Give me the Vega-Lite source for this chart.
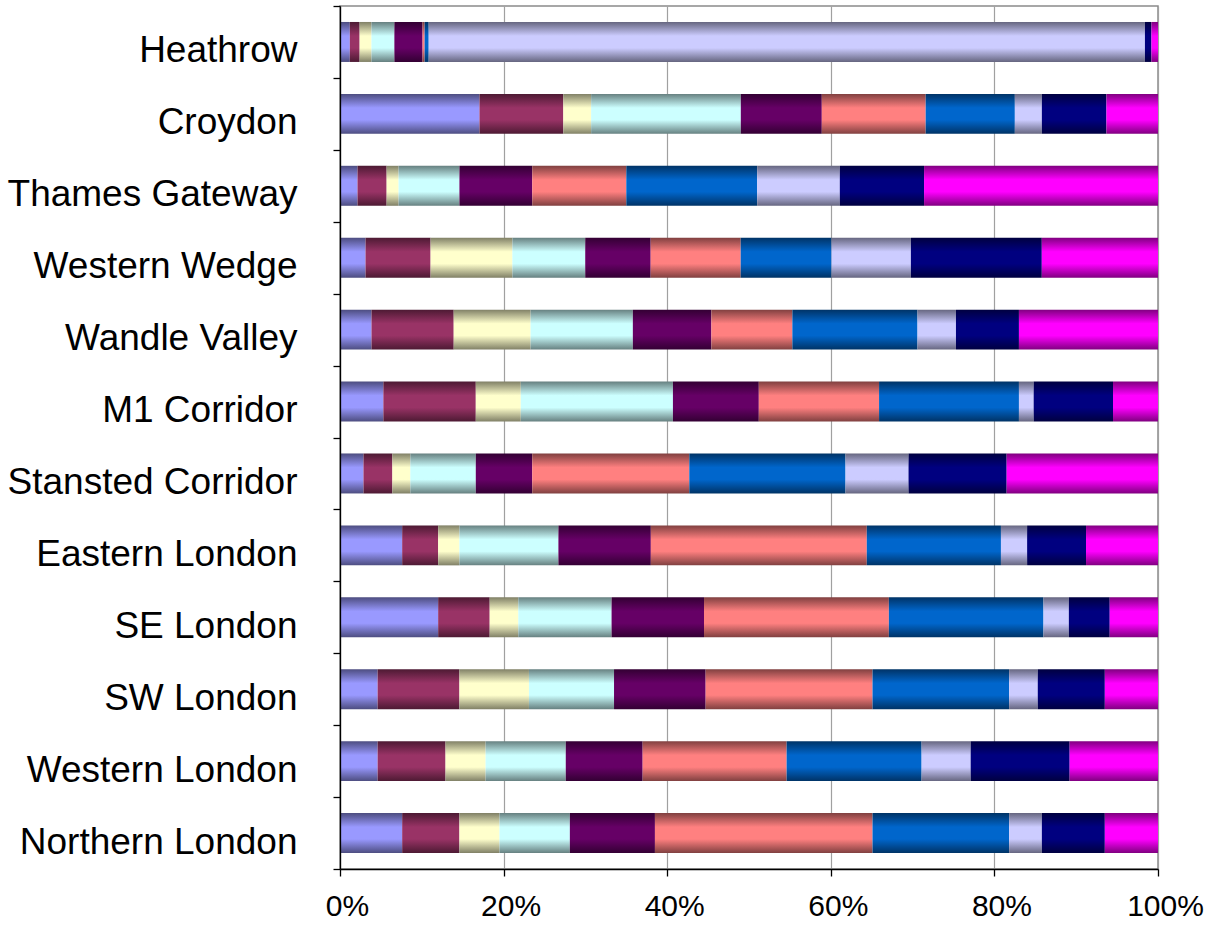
{
  "$schema": "https://vega.github.io/schema/vega-lite/v6.json",
  "width": 818,
  "height": 863,
  "autosize": {"type": "none"},
  "padding": {"left": 340, "top": 6, "right": 53, "bottom": 56},
  "background": "#ffffff",
  "config": {"view": {"stroke": "#8a8a8a", "strokeWidth": 1.5}},
  "data": {"values": [
    {"r":"Heathrow","k":1,"v":1.2},{"r":"Heathrow","k":2,"v":1.2},{"r":"Heathrow","k":3,"v":1.45},{"r":"Heathrow","k":4,"v":2.8},{"r":"Heathrow","k":5,"v":3.45},{"r":"Heathrow","k":6,"v":0.25},{"r":"Heathrow","k":7,"v":0.5},{"r":"Heathrow","k":8,"v":87.6},{"r":"Heathrow","k":9,"v":0.8},{"r":"Heathrow","k":10,"v":0.8},
    {"r":"Croydon","k":1,"v":17.05},{"r":"Croydon","k":2,"v":10.25},{"r":"Croydon","k":3,"v":3.4},{"r":"Croydon","k":4,"v":18.3},{"r":"Croydon","k":5,"v":9.9},{"r":"Croydon","k":6,"v":12.7},{"r":"Croydon","k":7,"v":10.9},{"r":"Croydon","k":8,"v":3.3},{"r":"Croydon","k":9,"v":7.9},{"r":"Croydon","k":10,"v":6.3},
    {"r":"Thames Gateway","k":1,"v":2.14},{"r":"Thames Gateway","k":2,"v":3.56},{"r":"Thames Gateway","k":3,"v":1.46},{"r":"Thames Gateway","k":4,"v":7.44},{"r":"Thames Gateway","k":5,"v":8.9},{"r":"Thames Gateway","k":6,"v":11.5},{"r":"Thames Gateway","k":7,"v":16.0},{"r":"Thames Gateway","k":8,"v":10.1},{"r":"Thames Gateway","k":9,"v":10.3},{"r":"Thames Gateway","k":10,"v":28.6},
    {"r":"Western Wedge","k":1,"v":3.12},{"r":"Western Wedge","k":2,"v":7.95},{"r":"Western Wedge","k":3,"v":10.0},{"r":"Western Wedge","k":4,"v":8.9},{"r":"Western Wedge","k":5,"v":8.0},{"r":"Western Wedge","k":6,"v":11.0},{"r":"Western Wedge","k":7,"v":11.1},{"r":"Western Wedge","k":8,"v":9.7},{"r":"Western Wedge","k":9,"v":16.0},{"r":"Western Wedge","k":10,"v":14.2},
    {"r":"Wandle Valley","k":1,"v":3.85},{"r":"Wandle Valley","k":2,"v":10.05},{"r":"Wandle Valley","k":3,"v":9.4},{"r":"Wandle Valley","k":4,"v":12.5},{"r":"Wandle Valley","k":5,"v":9.6},{"r":"Wandle Valley","k":6,"v":9.9},{"r":"Wandle Valley","k":7,"v":15.3},{"r":"Wandle Valley","k":8,"v":4.7},{"r":"Wandle Valley","k":9,"v":7.7},{"r":"Wandle Valley","k":10,"v":17.0},
    {"r":"M1 Corridor","k":1,"v":5.3},{"r":"M1 Corridor","k":2,"v":11.3},{"r":"M1 Corridor","k":3,"v":5.5},{"r":"M1 Corridor","k":4,"v":18.6},{"r":"M1 Corridor","k":5,"v":10.5},{"r":"M1 Corridor","k":6,"v":14.7},{"r":"M1 Corridor","k":7,"v":17.1},{"r":"M1 Corridor","k":8,"v":1.8},{"r":"M1 Corridor","k":9,"v":9.7},{"r":"M1 Corridor","k":10,"v":5.5},
    {"r":"Stansted Corridor","k":1,"v":2.87},{"r":"Stansted Corridor","k":2,"v":3.53},{"r":"Stansted Corridor","k":3,"v":2.2},{"r":"Stansted Corridor","k":4,"v":8.0},{"r":"Stansted Corridor","k":5,"v":6.9},{"r":"Stansted Corridor","k":6,"v":19.2},{"r":"Stansted Corridor","k":7,"v":19.1},{"r":"Stansted Corridor","k":8,"v":7.7},{"r":"Stansted Corridor","k":9,"v":12.0},{"r":"Stansted Corridor","k":10,"v":18.5},
    {"r":"Eastern London","k":1,"v":7.6},{"r":"Eastern London","k":2,"v":4.4},{"r":"Eastern London","k":3,"v":2.6},{"r":"Eastern London","k":4,"v":12.1},{"r":"Eastern London","k":5,"v":11.3},{"r":"Eastern London","k":6,"v":26.4},{"r":"Eastern London","k":7,"v":16.4},{"r":"Eastern London","k":8,"v":3.2},{"r":"Eastern London","k":9,"v":7.2},{"r":"Eastern London","k":10,"v":8.8},
    {"r":"SE London","k":1,"v":12.0},{"r":"SE London","k":2,"v":6.3},{"r":"SE London","k":3,"v":3.5},{"r":"SE London","k":4,"v":11.4},{"r":"SE London","k":5,"v":11.3},{"r":"SE London","k":6,"v":22.6},{"r":"SE London","k":7,"v":18.9},{"r":"SE London","k":8,"v":3.1},{"r":"SE London","k":9,"v":5.0},{"r":"SE London","k":10,"v":5.9},
    {"r":"SW London","k":1,"v":4.6},{"r":"SW London","k":2,"v":10.0},{"r":"SW London","k":3,"v":8.5},{"r":"SW London","k":4,"v":10.4},{"r":"SW London","k":5,"v":11.2},{"r":"SW London","k":6,"v":20.4},{"r":"SW London","k":7,"v":16.7},{"r":"SW London","k":8,"v":3.5},{"r":"SW London","k":9,"v":8.2},{"r":"SW London","k":10,"v":6.5},
    {"r":"Western London","k":1,"v":4.6},{"r":"Western London","k":2,"v":8.3},{"r":"Western London","k":3,"v":4.9},{"r":"Western London","k":4,"v":9.8},{"r":"Western London","k":5,"v":9.4},{"r":"Western London","k":6,"v":17.6},{"r":"Western London","k":7,"v":16.5},{"r":"Western London","k":8,"v":6.0},{"r":"Western London","k":9,"v":12.1},{"r":"Western London","k":10,"v":10.8},
    {"r":"Northern London","k":1,"v":7.6},{"r":"Northern London","k":2,"v":7.0},{"r":"Northern London","k":3,"v":4.9},{"r":"Northern London","k":4,"v":8.6},{"r":"Northern London","k":5,"v":10.4},{"r":"Northern London","k":6,"v":26.6},{"r":"Northern London","k":7,"v":16.7},{"r":"Northern London","k":8,"v":4.0},{"r":"Northern London","k":9,"v":7.7},{"r":"Northern London","k":10,"v":6.5}
  ]},
  "transform": [
    {"stack": "v", "groupby": ["r"], "sort": [{"field": "k", "order": "ascending"}], "offset": "normalize", "as": ["x0", "x1"]}
  ],
  "encoding": {
    "y": {
      "field": "r", "type": "nominal",
      "sort": ["Heathrow","Croydon","Thames Gateway","Western Wedge","Wandle Valley","M1 Corridor","Stansted Corridor","Eastern London","SE London","SW London","Western London","Northern London"],
      "scale": {"paddingInner": 0, "paddingOuter": 0},
      "axis": {"title": null, "grid": false, "domainColor": "#000000", "domainWidth": 1.3, "tickBand": "extent", "tickColor": "#000000", "tickSize": 7, "tickWidth": 1.3, "labelFont": "Liberation Sans", "labelFontSize": 37, "labelColor": "#000000", "labelPadding": 36, "labelOffset": 9, "labelLimit": 400, "zindex": 1}
    },
    "x": {
      "field": "x0", "type": "quantitative",
      "scale": {"domain": [0, 1], "nice": false},
      "axis": {"title": null, "values": [0, 0.2, 0.4, 0.6, 0.8, 1], "format": ".0%", "grid": true, "gridColor": "#a0a0a0", "gridWidth": 1.2, "domainColor": "#000000", "domainWidth": 1.3, "tickColor": "#000000", "tickSize": 7, "tickWidth": 1.3, "labelFont": "Liberation Sans", "labelFontSize": 30, "labelColor": "#000000", "labelPadding": 15, "labelOffset": 7, "labelFlush": false, "labelOverlap": false}
    },
    "x2": {"field": "x1"}
  },
  "layer": [
    {"transform": [{"filter": "datum.k == 1"}], "mark": {"type": "bar", "height": {"band": 0.556}, "color": {"gradient": "linear", "x1": 0, "y1": 0, "x2": 0, "y2": 1, "stops": [{"offset": 0, "color": "#4d4d80"}, {"offset": 0.35, "color": "#9999ff"}, {"offset": 0.65, "color": "#9999ff"}, {"offset": 1, "color": "#4d4d80"}]}}},
    {"transform": [{"filter": "datum.k == 2"}], "mark": {"type": "bar", "height": {"band": 0.556}, "color": {"gradient": "linear", "x1": 0, "y1": 0, "x2": 0, "y2": 1, "stops": [{"offset": 0, "color": "#4d1a33"}, {"offset": 0.35, "color": "#993366"}, {"offset": 0.65, "color": "#993366"}, {"offset": 1, "color": "#4d1a33"}]}}},
    {"transform": [{"filter": "datum.k == 3"}], "mark": {"type": "bar", "height": {"band": 0.556}, "color": {"gradient": "linear", "x1": 0, "y1": 0, "x2": 0, "y2": 1, "stops": [{"offset": 0, "color": "#808066"}, {"offset": 0.35, "color": "#ffffcc"}, {"offset": 0.65, "color": "#ffffcc"}, {"offset": 1, "color": "#808066"}]}}},
    {"transform": [{"filter": "datum.k == 4"}], "mark": {"type": "bar", "height": {"band": 0.556}, "color": {"gradient": "linear", "x1": 0, "y1": 0, "x2": 0, "y2": 1, "stops": [{"offset": 0, "color": "#668080"}, {"offset": 0.35, "color": "#ccffff"}, {"offset": 0.65, "color": "#ccffff"}, {"offset": 1, "color": "#668080"}]}}},
    {"transform": [{"filter": "datum.k == 5"}], "mark": {"type": "bar", "height": {"band": 0.556}, "color": {"gradient": "linear", "x1": 0, "y1": 0, "x2": 0, "y2": 1, "stops": [{"offset": 0, "color": "#330033"}, {"offset": 0.35, "color": "#660066"}, {"offset": 0.65, "color": "#660066"}, {"offset": 1, "color": "#330033"}]}}},
    {"transform": [{"filter": "datum.k == 6"}], "mark": {"type": "bar", "height": {"band": 0.556}, "color": {"gradient": "linear", "x1": 0, "y1": 0, "x2": 0, "y2": 1, "stops": [{"offset": 0, "color": "#804040"}, {"offset": 0.35, "color": "#ff8080"}, {"offset": 0.65, "color": "#ff8080"}, {"offset": 1, "color": "#804040"}]}}},
    {"transform": [{"filter": "datum.k == 7"}], "mark": {"type": "bar", "height": {"band": 0.556}, "color": {"gradient": "linear", "x1": 0, "y1": 0, "x2": 0, "y2": 1, "stops": [{"offset": 0, "color": "#003366"}, {"offset": 0.35, "color": "#0066cc"}, {"offset": 0.65, "color": "#0066cc"}, {"offset": 1, "color": "#003366"}]}}},
    {"transform": [{"filter": "datum.k == 8"}], "mark": {"type": "bar", "height": {"band": 0.556}, "color": {"gradient": "linear", "x1": 0, "y1": 0, "x2": 0, "y2": 1, "stops": [{"offset": 0, "color": "#666680"}, {"offset": 0.35, "color": "#ccccff"}, {"offset": 0.65, "color": "#ccccff"}, {"offset": 1, "color": "#666680"}]}}},
    {"transform": [{"filter": "datum.k == 9"}], "mark": {"type": "bar", "height": {"band": 0.556}, "color": {"gradient": "linear", "x1": 0, "y1": 0, "x2": 0, "y2": 1, "stops": [{"offset": 0, "color": "#000040"}, {"offset": 0.35, "color": "#000080"}, {"offset": 0.65, "color": "#000080"}, {"offset": 1, "color": "#000040"}]}}},
    {"transform": [{"filter": "datum.k == 10"}], "mark": {"type": "bar", "height": {"band": 0.556}, "color": {"gradient": "linear", "x1": 0, "y1": 0, "x2": 0, "y2": 1, "stops": [{"offset": 0, "color": "#800080"}, {"offset": 0.35, "color": "#ff00ff"}, {"offset": 0.65, "color": "#ff00ff"}, {"offset": 1, "color": "#800080"}]}}}
  ]
}
